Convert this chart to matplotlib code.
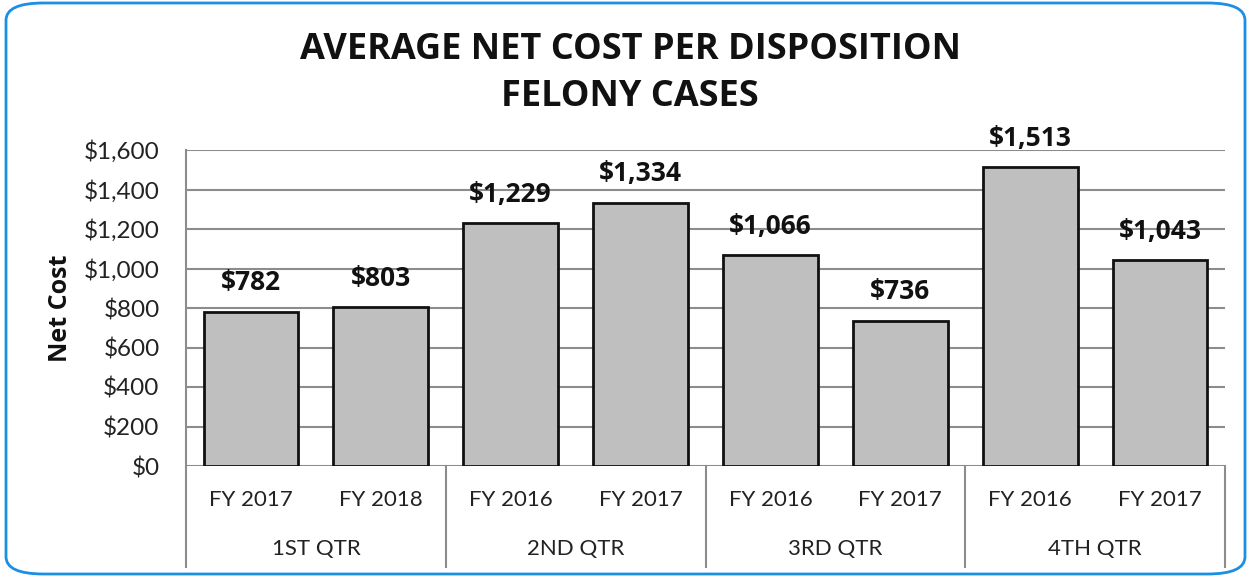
import matplotlib
matplotlib.use("Agg")
import matplotlib.pyplot as plt
from matplotlib.patches import FancyBboxPatch
import numpy as np

years = ["FY 2017", "FY 2018", "FY 2016", "FY 2017", "FY 2016", "FY 2017", "FY 2016", "FY 2017"]
quarters = ["1ST QTR", "2ND QTR", "3RD QTR", "4TH QTR"]
values = [782, 803, 1229, 1334, 1066, 736, 1513, 1043]
yticks = [0, 200, 400, 600, 800, 1000, 1200, 1400, 1600]

W, H = 1251, 577
fig = plt.figure(figsize=(W / 100, H / 100), dpi=100)

# rounded blue border
border = FancyBboxPatch((6 / W, 3 / H), (1239 / W), (571 / H),
                        boxstyle="round,pad=0,rounding_size=0.03",
                        transform=fig.transFigure, fill=False,
                        edgecolor="#1A8FE3", linewidth=2.0)
fig.patches.append(border)

left, right = 186 / W, 1225 / W
bottom, top = 1 - 466 / H, 1 - 150 / H
ax = fig.add_axes([left, bottom, right - left, top - bottom])

x = np.arange(len(values))
ax.bar(x, values, width=0.73, color="#BFBFBF", edgecolor="#111111", linewidth=2.0, zorder=3)
ax.set_xlim(-0.5, len(values) - 0.5)
ax.set_ylim(0, 1600)
ax.set_yticks(yticks)
ax.set_yticklabels([f"${v:,}" for v in yticks], fontsize=17.5, family="Lato", color="#222222")
ax.yaxis.grid(True, color="#8C8C8C", linewidth=1.5, zorder=0)
ax.set_axisbelow(True)
ax.tick_params(axis="y", length=0, pad=19)
ax.tick_params(axis="x", length=0, labelbottom=False)
for s in ["top", "right", "bottom"]:
    ax.spines[s].set_visible(False)
ax.spines["left"].set_color("#8C8C8C")
ax.spines["left"].set_linewidth(1.5)

for xi, v in zip(x, values):
    ax.annotate(f"${v:,}", (xi, v), xytext=(0, 11), textcoords="offset points",
                ha="center", va="bottom", fontsize=19, fontweight="bold",
                family="Open Sans", color="#111111")

ax.set_ylabel("Net Cost", fontsize=18, fontweight="bold", family="Open Sans",
              labelpad=8, color="#111111")

tr = ax.get_xaxis_transform()
axh = 466 - 150
for xi, lab in zip(x, years):
    ax.text(xi, -(500 - 466) / axh, lab, transform=tr, ha="center", va="center",
            fontsize=16, family="Lato", color="#222222")
for qi, q in enumerate(quarters):
    ax.text(2 * qi + 0.5, -(549 - 466) / axh, q, transform=tr, ha="center", va="center",
            fontsize=16, family="Lato", color="#222222")
for b in [-0.5, 1.5, 3.5, 5.5, 7.5]:
    ax.plot([b, b], [0, -(567 - 466) / axh], transform=tr, color="#8C8C8C",
            linewidth=1.5, clip_on=False)

fig.text(630 / W, 1 - 50 / H, "AVERAGE NET COST PER DISPOSITION",
         ha="center", va="center", fontsize=26, fontweight="bold", family="Open Sans",
         color="#111111")
fig.text(630 / W, 1 - 97 / H, "FELONY CASES",
         ha="center", va="center", fontsize=26, fontweight="bold", family="Open Sans",
         color="#111111")

fig.savefig("out.png", dpi=100)
